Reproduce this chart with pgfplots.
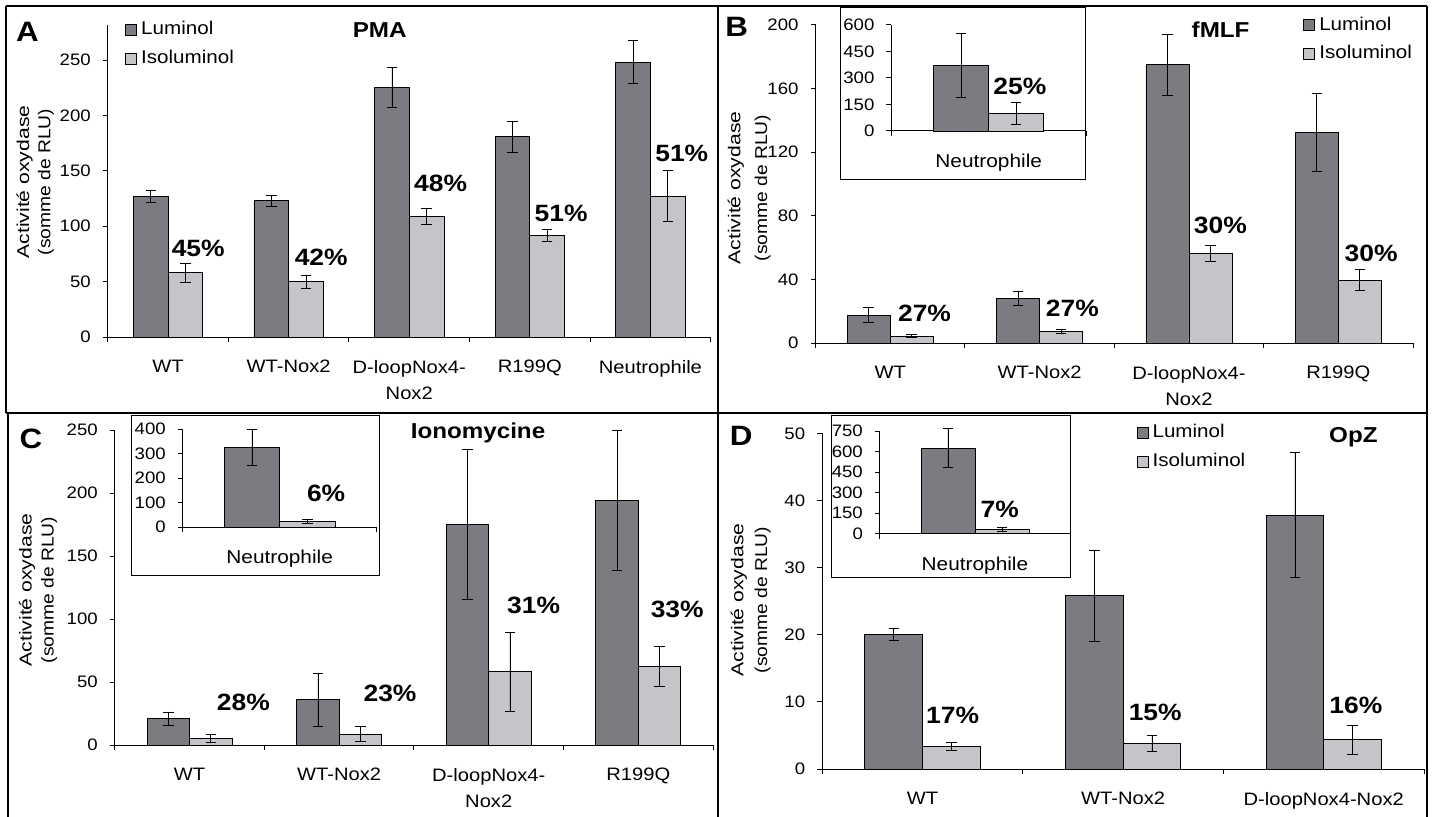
\documentclass[border=0pt]{standalone}
\usepackage{fontspec}
\setmainfont{Liberation Sans}[FakeStretch=1.12]
\usepackage{pgfplots}
\pgfplotsset{compat=1.18}
\definecolor{lum}{RGB}{126,122,130}
\definecolor{iso}{RGB}{198,196,200}
\tikzset{pct/.style={font=\fontsize{11.8}{13}\selectfont\bfseries},
  ttl/.style={font=\fontsize{10.8}{12}\selectfont\bfseries},
  ylab/.style={rotate=90, font=\fontsize{8.6}{10}\selectfont},
  let/.style={font=\fontsize{14}{15}\selectfont\bfseries}}
\pgfplotsset{
  chart/.style={
    scale only axis, anchor=south west,
    axis x line*=bottom, axis y line*=left,
    axis line style={-, line width=0.5pt},
    ymin=0, xmin=-0.5, ybar, clip=false,
    tick align=outside, major tick length=2.5pt,
    tick style={black, line width=0.5pt},
    y tick label style={font=\fontsize{8.3}{9}\selectfont, xshift=-2.5pt},
    /pgf/number format/assume math mode=true,
    xticklabels={},
    extra x tick style={major tick length=0pt},
    x tick label style={font=\fontsize{9}{13}\selectfont, align=center, yshift=-8pt},
    error bars/error bar style={line width=0.4pt, black},
    error bars/error mark options={rotate=90, mark size=2.6pt, line width=0.4pt, black},
    legend style={draw=none, fill=none, inner sep=0pt, anchor=north west,
      font=\fontsize{9.2}{10}\selectfont, row sep=2.3pt},
    legend cell align=left,
  },
  inset/.style={
    x tick label style={font=\fontsize{9.3}{10}\selectfont}},
  bars/.style={draw=black, line width=0.4pt, forget plot,
    error bars/y dir=both, error bars/y explicit},
  lumleg/.style={legend image code/.code={\draw[fill=lum,draw=black,line width=0.4pt] (0pt,-2.75pt) rectangle (5.5pt,2.75pt);}},
  isoleg/.style={legend image code/.code={\draw[fill=iso,draw=black,line width=0.4pt] (0pt,-2.75pt) rectangle (5.5pt,2.75pt);}},
}
\begin{document}
\begin{tikzpicture}
\useasboundingbox (0,0) rectangle (717pt,408pt);

% ---------------- Panel A ----------------
\begin{axis}[chart, at={(53.9pt,239.5pt)}, width=301.45pt, height=156pt, ymax=281.6, xmax=4.5,
  ytick={0,50,...,250}, xtick={-0.5,0.5,...,4.5},
  extra x ticks={0,1,2,3,4},
  extra x tick labels={WT,WT-Nox2,{D-loopNox4-\\Nox2},R199Q,Neutrophile},
  bar width=17.35pt, legend style={at={(0.0285,1.025)}}]
\addlegendimage{lumleg}\addlegendentry{Luminol}
\addlegendimage{isoleg}\addlegendentry{Isoluminol}
\addplot[bars, fill=lum, bar shift=-8.675pt] coordinates {(0,127) +- (0,5.5) (1,123) +- (0,5) (2,225) +- (0,18) (3,181) +- (0,14) (4,248) +- (0,19.5)};
\addplot[bars, fill=iso, bar shift=8.675pt] coordinates {(0,58) +- (0,8.5) (1,50) +- (0,5.7) (2,109) +- (0,7.5) (3,92) +- (0,5.4) (4,127) +- (0,23)};
\node[pct] at (axis cs:0.25,80) {45\%};
\node[pct] at (axis cs:1.27,72) {42\%};
\node[pct] at (axis cs:2.26,139) {48\%};
\node[pct] at (axis cs:3.26,112) {51\%};
\node[pct] at (axis cs:4.26,166) {51\%};
\end{axis}

% ---------------- Panel B ----------------
\begin{axis}[chart, at={(407.75pt,236.5pt)}, width=298.75pt, height=159pt, ymax=200, xmax=3.5,
  ytick={0,40,...,200}, xtick={-0.5,0.5,...,3.5},
  extra x ticks={0,1,2,3},
  extra x tick labels={WT,WT-Nox2,{D-loopNox4-\\Nox2},R199Q},
  bar width=21.5pt, legend style={at={(0.816,1.04)}}]
\addlegendimage{lumleg}\addlegendentry{Luminol}
\addlegendimage{isoleg}\addlegendentry{Isoluminol}
\addplot[bars, fill=lum, bar shift=-10.75pt] coordinates {(0,17.6) +- (0,4.7) (1,27.9) +- (0,4.3) (2,175) +- (0,19.3) (3,132.5) +- (0,24.5)};
\addplot[bars, fill=iso, bar shift=10.75pt] coordinates {(0,4.4) +- (0,1) (1,7.3) +- (0,1.3) (2,56.4) +- (0,5.2) (3,39.6) +- (0,6.7)};
\node[pct] at (axis cs:0.23,18.9) {27\%};
\node[pct] at (axis cs:1.22,22) {27\%};
\node[pct] at (axis cs:2.21,74) {30\%};
\node[pct] at (axis cs:3.22,56.6) {30\%};
\end{axis}

% ---------------- Panel C ----------------
\begin{axis}[chart, at={(57.4pt,35.5pt)}, width=299.15pt, height=157.5pt, ymax=250, xmax=3.5,
  ytick={0,50,...,250}, xtick={-0.5,0.5,...,3.5},
  extra x ticks={0,1,2,3},
  extra x tick labels={WT,WT-Nox2,{D-loopNox4-\\Nox2},R199Q},
  bar width=21.25pt]
\addplot[bars, fill=lum, bar shift=-10.6pt] coordinates {(0,21) +- (0,5.2) (1,36) +- (0,21.2) (2,175) +- (0,59.5) (3,194) +- (0,55.4)};
\addplot[bars, fill=iso, bar shift=10.6pt] coordinates {(0,5.3) +- (0,3.4) (1,8.7) +- (0,5.8) (2,58.2) +- (0,31.3) (3,62.7) +- (0,15.9)};
\node[pct] at (axis cs:0.36,34) {28\%};
\node[pct] at (axis cs:1.34,41) {23\%};
\node[pct] at (axis cs:2.3,111) {31\%};
\node[pct] at (axis cs:3.26,108) {33\%};
\end{axis}

% ---------------- Panel D ----------------
\begin{axis}[chart, at={(411.1pt,23.5pt)}, width=300.9pt, height=167.8pt, ymax=50, xmax=2.5,
  ytick={0,10,...,50}, xtick={-0.5,0.5,...,2.5},
  extra x ticks={0,1,2},
  extra x tick labels={WT,WT-Nox2,D-loopNox4-Nox2},
  bar width=28.85pt, legend style={at={(0.522,1.04)}}]
\addlegendimage{lumleg}\addlegendentry{Luminol}
\addlegendimage{isoleg}\addlegendentry{Isoluminol}
\addplot[bars, fill=lum, bar shift=-14.4pt] coordinates {(0,20.1) +- (0,0.9) (1,25.8) +- (0,6.8) (2,37.8) +- (0,9.3)};
\addplot[bars, fill=iso, bar shift=14.4pt] coordinates {(0,3.3) +- (0,0.6) (1,3.8) +- (0,1.25) (2,4.4) +- (0,2.15)};
\node[pct] at (axis cs:0.15,8) {17\%};
\node[pct] at (axis cs:1.16,8.5) {15\%};
\node[pct] at (axis cs:2.16,9.5) {16\%};
\end{axis}

% ---------------- Frames, inset boxes, annotations ----------------
\begin{scope}[x=0.5pt,y=0.5pt]
\draw[line width=0.9pt] (6,810) -- (1427,810);
\draw[line width=0.9pt] (6,403) -- (1427,403);
\draw[line width=0.9pt] (6,810) -- (6,403);
\draw[line width=0.9pt] (8,403) -- (8,-5);
\draw[line width=0.9pt] (718,810) -- (718,-5);
\draw[line width=0.9pt] (1427,810) -- (1427,-5);
\draw[line width=0.5pt, fill=white] (840.6,808) rectangle (1085,637);
\draw[line width=0.5pt, fill=white] (131.8,401) rectangle (379.7,241);
\draw[line width=0.5pt, fill=white] (831.4,401) rectangle (1070,239);
\node[let] at (27.5,784) {A};
\node[let] at (736.6,789) {B};
\node[let] at (31,377) {C};
\node[let] at (741.2,380) {D};
\node[ttl] at (379.7,786) {PMA};
\node[ttl] at (1220.6,786) {fMLF};
\node[ttl] at (478,383) {Ionomycine};
\node[ttl] at (1353.4,379) {OpZ};
\node[ylab] at (24.6,634) {\scalebox{1.1}[1]{Activité oxydase}};
\node[ylab] at (45.9,634) {(somme de RLU)};
\node[ylab] at (735.7,628) {\scalebox{1.1}[1]{Activité oxydase}};
\node[ylab] at (762.7,628) {(somme de RLU)};
\node[ylab] at (27.1,226) {\scalebox{1.1}[1]{Activité oxydase}};
\node[ylab] at (49.1,226) {(somme de RLU)};
\node[ylab] at (738.9,216) {\scalebox{1.1}[1]{Activité oxydase}};
\node[ylab] at (762.7,216) {(somme de RLU)};
\end{scope}

% ---------------- Insets ----------------
\begin{axis}[chart, inset, at={(445.7pt,342.5pt)}, width=97.3pt, height=53pt, ymax=600, xmax=0.5,
  ytick={0,150,...,600}, xtick={-0.5,0.5}, extra x ticks={0}, extra x tick labels={Neutrophile},
  bar width=27.5pt]
\addplot[bars, fill=lum, bar shift=-13.75pt] coordinates {(0,370) +- (0,180)};
\addplot[bars, fill=iso, bar shift=13.75pt] coordinates {(0,100) +- (0,60)};
\node[pct] at (axis cs:0.16,255) {25\%};
\end{axis}

\begin{axis}[chart, inset, at={(91.4pt,144.5pt)}, width=96.85pt, height=49pt, ymax=400, xmax=0.5,
  ytick={0,100,...,400}, xtick={-0.5,0.5}, extra x ticks={0}, extra x tick labels={Neutrophile},
  bar width=27.7pt]
\addplot[bars, fill=lum, bar shift=-13.85pt] coordinates {(0,325) +- (0,72)};
\addplot[bars, fill=iso, bar shift=13.85pt] coordinates {(0,22) +- (0,9)};
\node[pct] at (axis cs:0.24,139) {6\%};
\end{axis}

\begin{axis}[chart, inset, at={(439.95pt,141.15pt)}, width=95.05pt, height=51.3pt, ymax=750, xmax=0.5,
  ytick={0,150,...,750}, xtick={-0.5,0.5}, extra x ticks={0}, extra x tick labels={Neutrophile},
  bar width=27pt]
\addplot[bars, fill=lum, bar shift=-13.5pt] coordinates {(0,625) +- (0,143)};
\addplot[bars, fill=iso, bar shift=13.5pt] coordinates {(0,32) +- (0,15)};
\node[pct] at (axis cs:0.13,181) {7\%};
\end{axis}
\end{tikzpicture}
\end{document}
